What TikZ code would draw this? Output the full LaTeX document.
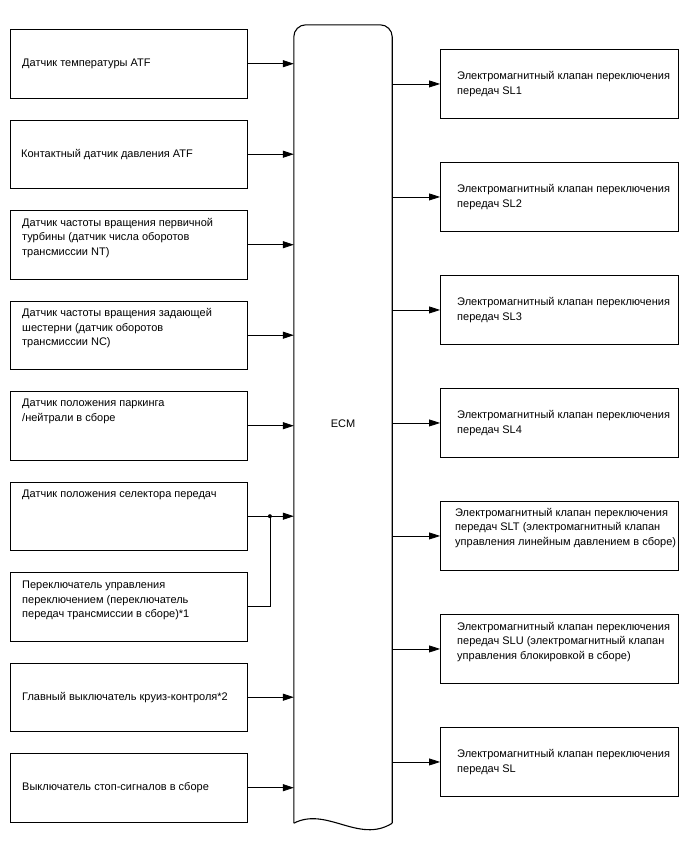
\documentclass[tikz,border=0pt]{standalone}
\usepackage{fontspec}
\setmainfont{Liberation Sans}
\usepackage{tikz}
\usetikzlibrary{arrows.meta,calc}

\begin{document}
\begin{tikzpicture}[x=1pt,y=-1pt,
  sens/.style={draw=black,line width=0.9pt,minimum width=237pt,minimum height=68.5pt,anchor=north west,inner sep=0pt},
  valve/.style={sens,minimum width=238pt,minimum height=69pt},
  txt/.style={font=\fontsize{11}{14.5}\selectfont,align=left,inner sep=0pt},
  ecmbox/.style={minimum width=98pt,minimum height=798pt,inner sep=0pt,font=\fontsize{11}{14.5}\selectfont},
  arr/.style={-{Triangle[length=11pt,width=7pt]},line width=0.8pt,black},
  wire/.style={line width=0.8pt,black}]
\useasboundingbox (0,0) rectangle (688,852);
% ECM
\node[ecmbox] (ecm) at (343,424) {ECM};
\draw[line width=1.1pt,rounded corners=12pt] (ecm.south west) -- (ecm.north west) -- (ecm.north east) -- (ecm.south east);
\draw[line width=1.1pt] (ecm.south west) .. controls ($(ecm.south west)+(33,-17)$) and ($(ecm.south west)+(65,21)$) .. (ecm.south east);
% inputs
\node[sens] (atftemp) at (10,29) {};
\node[sens] (atfpress) at (10,119.5) {};
\node[sens] (ntsens) at (10,210) {};
\node[sens] (ncsens) at (10,300.5) {};
\node[sens] (pnp) at (10,391) {};
\node[sens] (selpos) at (10,481.5) {};
\node[sens] (shiftsw) at (10,572) {};
\node[sens] (cruise) at (10,662.5) {};
\node[sens] (stoplamp) at (10,753) {};
\node[txt,anchor=west] (atftemp-t) at ([xshift=12pt]atftemp.west) {Датчик температуры ATF};
\node[txt,anchor=west] (atfpress-t) at ([xshift=11pt]atfpress.west) {Контактный датчик давления ATF};
\node[txt,anchor=north west] (ntsens-t) at ([xshift=12pt,yshift=-8pt]ntsens.north west) {Датчик частоты вращения первичной\\турбины (датчик числа оборотов\\трансмиссии NT)};
\node[txt,anchor=north west] (ncsens-t) at ([xshift=12pt,yshift=-8pt]ncsens.north west) {Датчик частоты вращения задающей\\шестерни (датчик оборотов\\трансмиссии NC)};
\node[txt,anchor=north west] (pnp-t) at ([xshift=12pt,yshift=-8pt]pnp.north west) {Датчик положения паркинга\\/нейтрали в сборе};
\node[txt,anchor=north west] (selpos-t) at ([xshift=12pt,yshift=-8pt]selpos.north west) {Датчик положения селектора передач};
\node[txt,anchor=north west] (shiftsw-t) at ([xshift=12pt,yshift=-9pt]shiftsw.north west) {Переключатель управления\\переключением (переключатель\\передач трансмиссии в сборе)*1};
\node[txt,anchor=west] (cruise-t) at ([xshift=12pt]cruise.west) {Главный выключатель круиз-контроля*2};
\node[txt,anchor=west] (stoplamp-t) at ([xshift=12pt]stoplamp.west) {Выключатель стоп-сигналов в сборе};
% outputs
\node[valve] (sl1) at (440,49) {};
\node[valve] (sl2) at (440,162) {};
\node[valve] (sl3) at (440,275) {};
\node[valve] (sl4) at (440,388) {};
\node[valve] (slt) at (440,501) {};
\node[valve] (slu) at (440,614) {};
\node[valve] (sl) at (440,727) {};
\node[txt,anchor=west] (sl1-t) at ([xshift=17pt]sl1.west) {Электромагнитный клапан переключения\\передач SL1};
\node[txt,anchor=west] (sl2-t) at ([xshift=17pt]sl2.west) {Электромагнитный клапан переключения\\передач SL2};
\node[txt,anchor=west] (sl3-t) at ([xshift=17pt]sl3.west) {Электромагнитный клапан переключения\\передач SL3};
\node[txt,anchor=west] (sl4-t) at ([xshift=17pt]sl4.west) {Электромагнитный клапан переключения\\передач SL4};
\node[txt,anchor=north west] (slt-t) at ([xshift=15pt,yshift=-7pt]slt.north west) {Электромагнитный клапан переключения\\передач SLT (электромагнитный клапан\\управления линейным давлением в сборе)};
\node[txt,anchor=north west] (slu-t) at ([xshift=17pt,yshift=-8pt]slu.north west) {Электромагнитный клапан переключения\\передач SLU (электромагнитный клапан\\управления блокировкой в сборе)};
\node[txt,anchor=west] (sl-t) at ([xshift=17pt]sl.west) {Электромагнитный клапан переключения\\передач SL};
% connectors
\coordinate (jn) at ($(selpos.east)+(22,0)$);
\draw[arr] (atftemp.east) -- (atftemp.east -| ecm.west);
\draw[arr] (atfpress.east) -- (atfpress.east -| ecm.west);
\draw[arr] (ntsens.east) -- (ntsens.east -| ecm.west);
\draw[arr] (ncsens.east) -- (ncsens.east -| ecm.west);
\draw[arr] (pnp.east) -- (pnp.east -| ecm.west);
\draw[arr] (selpos.east) -- (selpos.east -| ecm.west);
\draw[wire] (shiftsw.east) -| (jn);
\fill (jn) circle (2pt);
\draw[arr] (cruise.east) -- (cruise.east -| ecm.west);
\draw[arr] (stoplamp.east) -- (stoplamp.east -| ecm.west);
\draw[arr] (ecm.east |- sl1.west) -- (sl1.west);
\draw[arr] (ecm.east |- sl2.west) -- (sl2.west);
\draw[arr] (ecm.east |- sl3.west) -- (sl3.west);
\draw[arr] (ecm.east |- sl4.west) -- (sl4.west);
\draw[arr] (ecm.east |- slt.west) -- (slt.west);
\draw[arr] (ecm.east |- slu.west) -- (slu.west);
\draw[arr] (ecm.east |- sl.west) -- (sl.west);
\end{tikzpicture}
\end{document}
